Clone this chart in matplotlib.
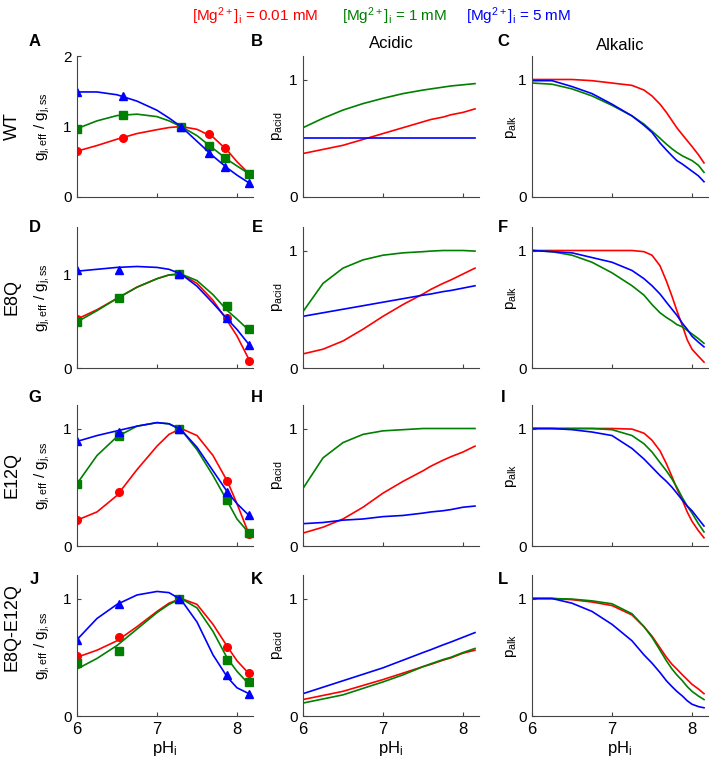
import matplotlib
matplotlib.use('Agg')
import matplotlib.pyplot as plt
import numpy as np

plt.rcParams['font.family'] = ['Liberation Sans', 'DejaVu Sans']
plt.rcParams['mathtext.fontset'] = 'custom'
plt.rcParams['mathtext.rm'] = 'Liberation Sans'
plt.rcParams['mathtext.it'] = 'Liberation Sans:italic'

RED, GREEN, BLUE = '#ff0000', '#007f00', '#0000ff'
AXCOL = '#444444'

# ---- data -------------------------------------------------------------
rows = ['WT', 'E8Q', 'E12Q', 'E8Q-E12Q']
letters = ['ABC', 'DEF', 'GHI', 'JKL']

# measured points (left column)
ph_pts_wt = [6.0, 6.58, 7.3, 7.65, 7.85, 8.15]
ph_pts = [6.0, 6.53, 7.28, 7.88, 8.15]

wt_red = [0.65, 0.84, 1.0, 0.89, 0.69, 0.33]
wt_green = [0.97, 1.17, 1.0, 0.73, 0.55, 0.33]
wt_blue = [1.49, 1.43, 1.0, 0.63, 0.43, 0.20]

e8q_red = [0.52, 0.75, 1.0, 0.53, 0.07]
e8q_green = [0.49, 0.75, 1.0, 0.66, 0.41]
e8q_blue = [1.04, 1.04, 1.0, 0.53, 0.24]

e12q_red = [0.22, 0.46, 1.0, 0.55, 0.10]
e12q_green = [0.53, 0.94, 1.0, 0.39, 0.11]
e12q_blue = [0.89, 0.97, 1.0, 0.46, 0.26]

dbl_red = [0.51, 0.67, 1.0, 0.59, 0.37]
dbl_green = [0.45, 0.555, 1.0, 0.48, 0.29]
dbl_blue = [0.65, 0.95, 1.0, 0.35, 0.19]

# model curves (left column)
ph_fit = [6.0, 6.25, 6.5, 6.75, 7.0, 7.15, 7.3, 7.5, 7.7, 7.88, 8.0, 8.15]

wt_red_fit = [0.65, 0.73, 0.82, 0.90, 0.955, 0.985, 1.0, 0.96, 0.85, 0.66, 0.50, 0.33]
wt_green_fit = [0.97, 1.08, 1.155, 1.175, 1.14, 1.08, 1.0, 0.87, 0.69, 0.53, 0.44, 0.33]
wt_blue_fit = [1.49, 1.49, 1.45, 1.36, 1.23, 1.12, 1.0, 0.79, 0.58, 0.41, 0.31, 0.20]

e8q_red_fit = [0.52, 0.62, 0.74, 0.86, 0.95, 0.99, 1.0, 0.90, 0.72, 0.50, 0.34, 0.09]
e8q_green_fit = [0.49, 0.61, 0.74, 0.86, 0.95, 0.99, 1.0, 0.93, 0.78, 0.61, 0.52, 0.40]
e8q_blue_fit = [1.03, 1.05, 1.07, 1.08, 1.07, 1.05, 1.0, 0.87, 0.69, 0.52, 0.41, 0.25]

e12q_red_fit = [0.22, 0.29, 0.43, 0.65, 0.85, 0.95, 1.0, 0.94, 0.77, 0.55, 0.36, 0.10]
e12q_green_fit = [0.53, 0.77, 0.93, 1.02, 1.05, 1.04, 0.99, 0.82, 0.60, 0.38, 0.23, 0.11]
e12q_blue_fit = [0.89, 0.94, 0.98, 1.02, 1.05, 1.04, 0.99, 0.84, 0.64, 0.46, 0.36, 0.26]

dbl_red_fit = [0.50, 0.56, 0.64, 0.76, 0.89, 0.96, 1.0, 0.95, 0.78, 0.59, 0.47, 0.36]
dbl_green_fit = [0.40, 0.49, 0.60, 0.74, 0.88, 0.95, 1.0, 0.92, 0.72, 0.49, 0.38, 0.27]
dbl_blue_fit = [0.65, 0.83, 0.95, 1.03, 1.06, 1.05, 0.99, 0.80, 0.52, 0.33, 0.24, 0.19]

# acidic gate open probability (middle column)
ph_acid = [6.0, 6.25, 6.5, 6.75, 7.0, 7.25, 7.5, 7.6, 7.75, 7.85, 8.0, 8.15]

wt_acid_red = [0.37, 0.405, 0.44, 0.49, 0.54, 0.59, 0.64, 0.66, 0.68, 0.70, 0.72, 0.75]
wt_acid_green = [0.59, 0.67, 0.74, 0.795, 0.84, 0.88, 0.91, 0.92, 0.935, 0.945, 0.955, 0.965]
wt_acid_blue = [0.5, 0.5, 0.5, 0.5, 0.5, 0.5, 0.5, 0.5, 0.5, 0.5, 0.5, 0.5]

e8q_acid_red = [0.12, 0.16, 0.23, 0.33, 0.44, 0.54, 0.63, 0.67, 0.72, 0.75, 0.80, 0.85]
e8q_acid_green = [0.48, 0.72, 0.85, 0.92, 0.96, 0.98, 0.99, 0.995, 1.0, 1.0, 1.0, 0.995]
e8q_acid_blue = [0.44, 0.47, 0.50, 0.53, 0.56, 0.59, 0.62, 0.63, 0.65, 0.66, 0.68, 0.70]

e12q_acid_red = [0.11, 0.16, 0.23, 0.33, 0.45, 0.55, 0.64, 0.68, 0.73, 0.76, 0.80, 0.85]
e12q_acid_green = [0.49, 0.75, 0.88, 0.95, 0.98, 0.99, 1.0, 1.0, 1.0, 1.0, 1.0, 1.0]
e12q_acid_blue = [0.19, 0.20, 0.22, 0.23, 0.25, 0.26, 0.28, 0.29, 0.30, 0.31, 0.33, 0.34]

dbl_acid_red = [0.14, 0.175, 0.21, 0.26, 0.31, 0.365, 0.42, 0.44, 0.475, 0.495, 0.535, 0.56]
dbl_acid_green = [0.11, 0.145, 0.18, 0.235, 0.29, 0.35, 0.42, 0.445, 0.48, 0.50, 0.54, 0.575]
dbl_acid_blue = [0.19, 0.245, 0.30, 0.355, 0.41, 0.475, 0.54, 0.565, 0.605, 0.63, 0.67, 0.71]

# alkalic gate open probability (right column)
ph_alk = [6.0, 6.25, 6.5, 6.75, 7.0, 7.25, 7.4, 7.5, 7.6, 7.68, 7.75, 7.81,
          7.88, 7.94, 8.0, 8.08, 8.15]

wt_alk_red = [1.0, 1.0, 1.0, 0.99, 0.97, 0.95, 0.91, 0.86, 0.79, 0.72, 0.65,
              0.59, 0.53, 0.48, 0.43, 0.36, 0.29]
wt_alk_green = [0.97, 0.96, 0.92, 0.86, 0.78, 0.69, 0.62, 0.56, 0.50, 0.45,
                0.41, 0.38, 0.35, 0.33, 0.31, 0.27, 0.21]
wt_alk_blue = [0.99, 0.99, 0.94, 0.88, 0.79, 0.69, 0.61, 0.55, 0.46, 0.40,
               0.35, 0.31, 0.28, 0.25, 0.22, 0.18, 0.13]

e8q_alk_red = [1.0, 1.0, 1.0, 1.0, 1.0, 1.0, 0.99, 0.96, 0.87, 0.74, 0.61,
               0.49, 0.36, 0.24, 0.16, 0.10, 0.05]
e8q_alk_green = [1.0, 0.99, 0.96, 0.90, 0.81, 0.70, 0.62, 0.54, 0.47, 0.43,
                 0.40, 0.37, 0.35, 0.32, 0.29, 0.25, 0.21]
e8q_alk_blue = [1.0, 0.99, 0.98, 0.94, 0.90, 0.83, 0.76, 0.70, 0.63, 0.56,
                0.50, 0.45, 0.38, 0.33, 0.27, 0.22, 0.18]

e12q_alk_red = [1.0, 1.0, 1.0, 1.0, 1.0, 0.995, 0.96, 0.90, 0.81, 0.70, 0.59,
                0.49, 0.39, 0.29, 0.21, 0.13, 0.07]
e12q_alk_green = [1.0, 1.0, 1.0, 1.0, 0.99, 0.94, 0.87, 0.80, 0.71, 0.64,
                  0.57, 0.50, 0.41, 0.34, 0.28, 0.19, 0.12]
e12q_alk_blue = [1.0, 1.0, 0.99, 0.97, 0.94, 0.83, 0.74, 0.67, 0.60, 0.55,
                 0.50, 0.45, 0.39, 0.34, 0.30, 0.23, 0.17]

dbl_alk_red = [1.0, 1.0, 0.99, 0.97, 0.94, 0.86, 0.76, 0.68, 0.58, 0.50, 0.44,
               0.40, 0.35, 0.31, 0.27, 0.23, 0.19]
dbl_alk_green = [1.0, 1.0, 0.995, 0.98, 0.955, 0.87, 0.76, 0.67, 0.56, 0.47,
                 0.40, 0.35, 0.30, 0.25, 0.21, 0.17, 0.14]
dbl_alk_blue = [1.0, 1.0, 0.96, 0.89, 0.78, 0.64, 0.52, 0.45, 0.37, 0.30, 0.25,
                0.21, 0.17, 0.13, 0.10, 0.08, 0.07]

points = [
    (ph_pts_wt, wt_red, wt_green, wt_blue),
    (ph_pts, e8q_red, e8q_green, e8q_blue),
    (ph_pts, e12q_red, e12q_green, e12q_blue),
    (ph_pts, dbl_red, dbl_green, dbl_blue),
]
fits = [
    (wt_red_fit, wt_green_fit, wt_blue_fit),
    (e8q_red_fit, e8q_green_fit, e8q_blue_fit),
    (e12q_red_fit, e12q_green_fit, e12q_blue_fit),
    (dbl_red_fit, dbl_green_fit, dbl_blue_fit),
]
acid = [
    (wt_acid_red, wt_acid_green, wt_acid_blue),
    (e8q_acid_red, e8q_acid_green, e8q_acid_blue),
    (e12q_acid_red, e12q_acid_green, e12q_acid_blue),
    (dbl_acid_red, dbl_acid_green, dbl_acid_blue),
]
alk = [
    (wt_alk_red, wt_alk_green, wt_alk_blue),
    (e8q_alk_red, e8q_alk_green, e8q_alk_blue),
    (e12q_alk_red, e12q_alk_green, e12q_alk_blue),
    (dbl_alk_red, dbl_alk_green, dbl_alk_blue),
]
left_ylim = [2.0, 1.5, 1.2, 1.2]
left_yticks = [[0, 1, 2], [0, 1], [0, 1], [0, 1]]
letter_y = [1.1, 1.0, 1.05, 0.965]

# ---- layout -----------------------------------------------------------
W, H = 714, 761
fig = plt.figure(figsize=(W / 100, H / 100), dpi=100)
col_left = [77, 303, 532]
col_width = 176
row_bottom = [197, 368, 546, 716]
row_height = 141


def style(ax, ylim, yticks, bottom):
    for side in ('top', 'right'):
        ax.spines[side].set_visible(False)
    for side in ('left', 'bottom'):
        ax.spines[side].set_color(AXCOL)
        ax.spines[side].set_linewidth(0.8)
    ax.set_xlim(6, 8.2)
    ax.set_ylim(0, ylim)
    ax.set_xticks([6, 7, 8])
    ax.set_yticks(yticks)
    ax.tick_params(direction='in', length=3, width=0.8, color=AXCOL,
                   labelsize=11, pad=4)
    if bottom:
        ax.set_xticklabels(['6', '7', '8'], fontsize=12)
        ax.set_xlabel(r'pH$_{\mathrm{i}}$', fontsize=12, labelpad=2)
    else:
        ax.set_xticklabels([])


colors = [RED, GREEN, BLUE]
markers = ['o', 's', '^']

for r in range(4):
    axes = []
    for c in range(3):
        rect = [col_left[c] / W, 1 - row_bottom[r] / H,
                col_width / W, row_height / H]
        axes.append(fig.add_axes(rect))
    ax_g, ax_a, ax_k = axes
    bottom = r == 3

    # conductance ratio with fitted curves
    xs = points[r][0]
    for ys, fit, col, mk in zip(points[r][1:], fits[r], colors, markers):
        ax_g.plot(ph_fit, fit, color=col, lw=1.2)
        ax_g.plot(xs, ys, mk, color=col, ms=5.5, mec=col)
    style(ax_g, left_ylim[r], left_yticks[r], bottom)
    ax_g.set_ylabel(r'g$_{\mathrm{j,eff}}$ / g$_{\mathrm{j,ss}}$', fontsize=11)
    ax_g.yaxis.set_label_coords(-0.14, 0.5)

    for ys, col in zip(acid[r], colors):
        ax_a.plot(ph_acid, ys, color=col, lw=1.2)
    style(ax_a, 1.2, [0, 1], bottom)
    ax_a.set_ylabel(r'p$_{\mathrm{acid}}$', fontsize=11)
    ax_a.yaxis.set_label_coords(-0.10, 0.5)

    for ys, col in zip(alk[r], colors):
        ax_k.plot(ph_alk, ys, color=col, lw=1.2)
    style(ax_k, 1.2, [0, 1], bottom)
    ax_k.set_ylabel(r'p$_{\mathrm{alk}}$', fontsize=11)
    ax_k.yaxis.set_label_coords(-0.075, 0.5)

    for ax, letter, lx in zip(axes, letters[r], [-0.24, -0.26, -0.165]):
        ax.text(lx, letter_y[r], letter, transform=ax.transAxes,
                fontsize=12, fontweight='bold', ha='center', va='center')

    # row label
    yc = 1 - (row_bottom[r] - row_height / 2) / H
    if r == 3:
        yc += 18 / H
    fig.text(12 / W, yc, rows[r], rotation=90, fontsize=13,
             ha='center', va='center')

    if r == 0:
        ax_a.set_title('Acidic', fontsize=12, pad=6)
        ax_k.set_title('Alkalic', fontsize=12, pad=4)

# header
header = [
    (255, r'[Mg$^{2+}$]$_{\mathrm{i}}$ = 0.01 mM', RED),
    (395, r'[Mg$^{2+}$]$_{\mathrm{i}}$ = 1 mM', GREEN),
    (519, r'[Mg$^{2+}$]$_{\mathrm{i}}$ = 5 mM', BLUE),
]
for x, txt, col in header:
    fig.text(x / W, 1 - 16 / H, txt, color=col, fontsize=11,
             ha='center', va='center')

fig.savefig('out.png', dpi=100)
